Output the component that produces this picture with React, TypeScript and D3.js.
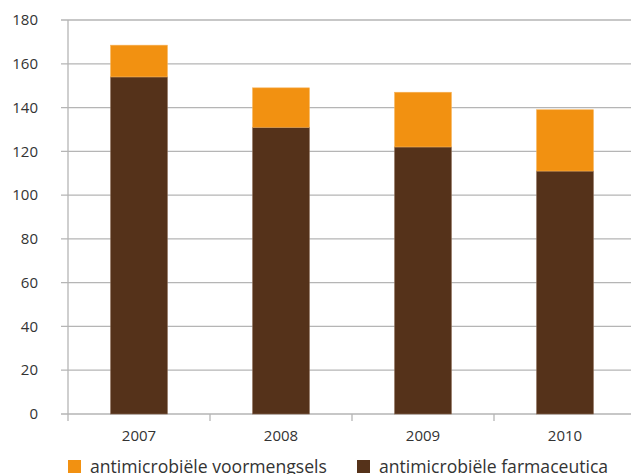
import React from "react";
import * as d3 from "d3";

const years = ["2007", "2008", "2009", "2010"];
const farmaceutica = [154, 131, 122, 111];
const voormengsels = [14.5, 18, 25, 28];
const yTicks = [0, 20, 40, 60, 80, 100, 120, 140, 160, 180];
const seriesNames = ["antimicrobiële voormengsels", "antimicrobiële farmaceutica"];
const colors = ["#F29111", "#55321A"];

export default function App() {
  const W = 631, H = 474;
  const left = 68, top = 20, bottom = 414;
  const x = d3.scaleBand<string>().domain(years).range([left, left + 568]).paddingInner(0.6).paddingOuter(0.3);
  const y = d3.scaleLinear().domain([0, 180]).range([bottom, top]);
  const font = "'Open Sans', sans-serif";
  const textColor = "#333";
  const grid = "#b5b5b5";
  const step = x.step();
  return (
    <svg width={W} height={H} style={{ position: "absolute", left: 0, top: 0, background: "#fff" }}>
      {yTicks.map((t) => (
        <g key={t}>
          <line x1={61} x2={W} y1={y(t)} y2={y(t)} stroke={grid} strokeWidth={1.3} />
          <text x={38} y={y(t)} dy="0.35em" textAnchor="end" fontFamily={font} fontSize={15} fill={textColor}>{t}</text>
        </g>
      ))}
      <line x1={left} x2={left} y1={top} y2={bottom + 7} stroke={grid} strokeWidth={1.3} />
      {years.map((yr, i) => (
        <line key={yr} x1={left + step * (i + 1)} x2={left + step * (i + 1)} y1={bottom} y2={bottom + 7} stroke={grid} strokeWidth={1.3} />
      ))}
      {years.map((yr, i) => {
        const bx = x(yr)!;
        const bw = x.bandwidth();
        const f = farmaceutica[i];
        const v = voormengsels[i];
        return (
          <g key={yr}>
            <rect x={bx} y={y(f)} width={bw} height={y(0) - y(f)} fill={colors[1]} stroke="#8a6a55" strokeWidth={0.6} />
            <rect x={bx} y={y(f + v)} width={bw} height={y(f) - y(f + v)} fill={colors[0]} stroke="#f7b155" strokeWidth={0.6} />
            <text x={bx + bw / 2} y={441} textAnchor="middle" fontFamily={font} fontSize={15} fill={textColor}>{yr}</text>
          </g>
        );
      })}
      {seriesNames.map((s, i) => {
        const lx = i === 0 ? 68 : 357;
        return (
          <g key={s}>
            <rect x={lx} y={460} width={13} height={13} fill={colors[i]} />
            <text x={lx + 22} y={473} fontFamily={font} fontSize={17.6} fill={textColor}>{s}</text>
          </g>
        );
      })}
    </svg>
  );
}
